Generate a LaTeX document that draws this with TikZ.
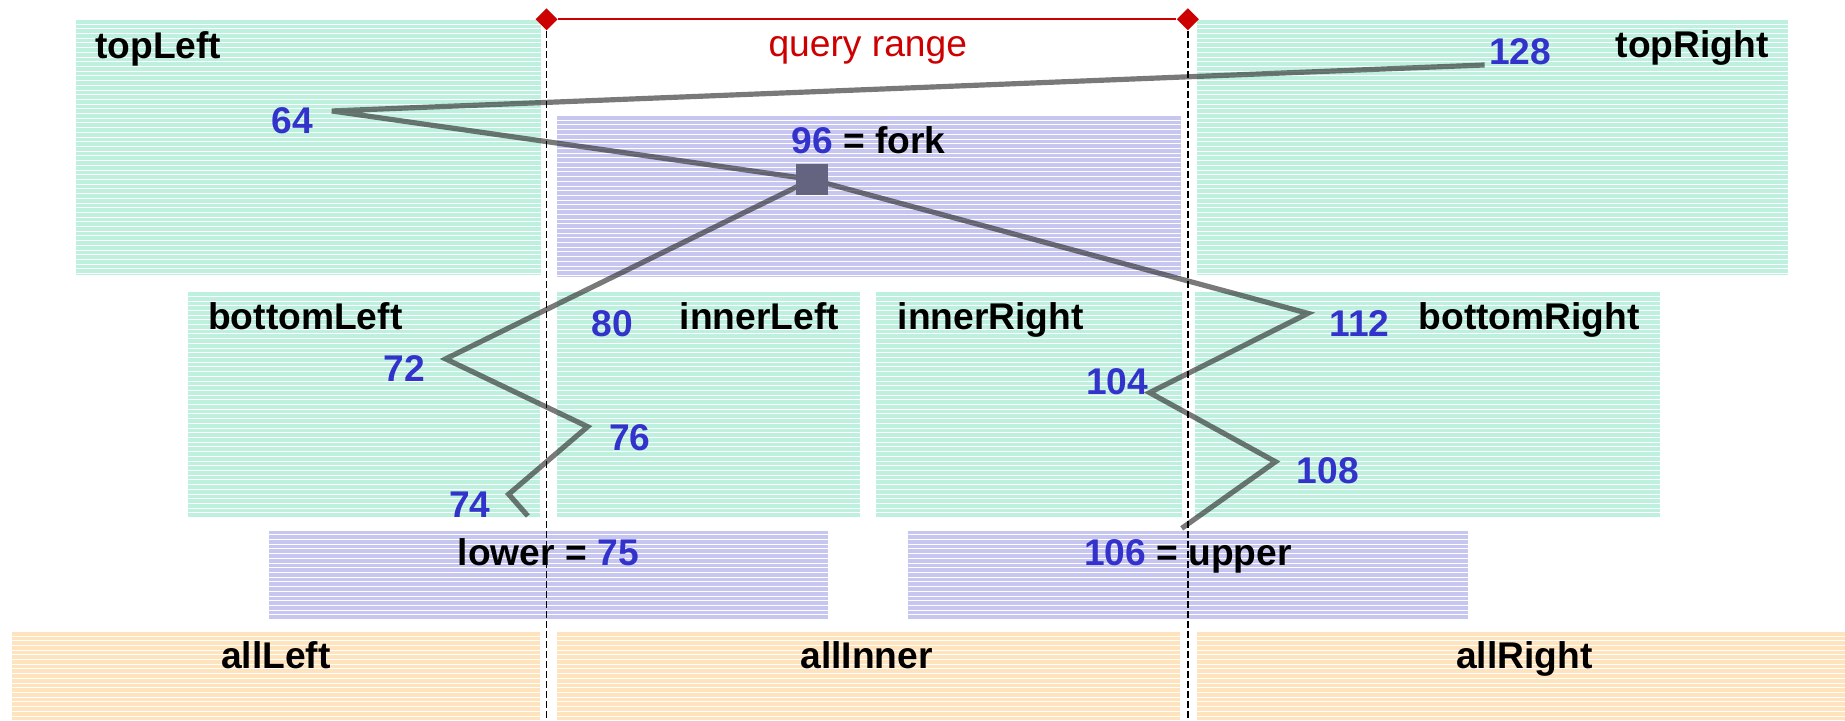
\documentclass[tikz,border=0pt]{standalone}
\usepackage{fontspec}
\setmainfont{Liberation Sans}
\usetikzlibrary{shapes.geometric}

\definecolor{tealfill}{RGB}{190,240,222}
\definecolor{lilacfill}{RGB}{198,198,240}
\definecolor{peachfill}{RGB}{255,227,188}
\definecolor{numblue}{RGB}{51,51,204}
\definecolor{rangered}{RGB}{204,0,0}
\definecolor{forkgray}{RGB}{100,100,128}

\tikzset{
  zone/.style={draw=none, inner sep=0pt, outer sep=0pt, rectangle,
    path picture={
      \foreach \k in {0,...,56}
        \draw[white, line width=0.3pt]
          ([yshift=-\k*2pt-1.7pt]path picture bounding box.north west) --
          ([yshift=-\k*2pt-1.7pt]path picture bounding box.north east);}},
  lbl/.style={font=\fontsize{15.8}{18}\selectfont\bfseries, inner sep=0pt, outer sep=0pt},
  num/.style={lbl, text=numblue},
  trace/.style={draw=black!85, draw opacity=0.62, line width=2.2pt, line join=miter},
  guide/.style={draw=black, line width=0.55pt, dash pattern=on 2.85pt off 1.4pt},
  rangeline/.style={draw=rangered, line width=0.85pt},
  rangeend/.style={diamond, fill=rangered, draw=none, inner sep=0pt, minimum size=9.5pt},
  forkmark/.style={rectangle, fill=forkgray, draw=none, inner sep=0pt, minimum size=13.5pt}
}

% name, colour, x0, y0, x1, y1 (y grows downward)
\newcommand\zonebox[6]{%
  \node[zone, fill=#2, minimum width={(#5-#3)*0.5pt}, minimum height={(#6-#4)*0.5pt}]
    (#1) at ({(#3+#5)/2},{(#4+#6)/2}) {};}

\begin{document}
\begin{tikzpicture}[x=0.5pt, y=-0.5pt]
\useasboundingbox (0,0) rectangle (1568,612);

% tree levels
\zonebox{topLeftBox}{tealfill}{65}{17}{459.4}{233.7}
\zonebox{forkBox}{lilacfill}{473}{98.6}{1003.3}{235}
\zonebox{topRightBox}{tealfill}{1017}{17}{1519.8}{233.7}

\zonebox{bottomLeftBox}{tealfill}{160}{248.3}{459}{439}
\zonebox{innerLeftBox}{tealfill}{473}{248.3}{731}{439}
\zonebox{innerRightBox}{tealfill}{744.5}{248.3}{1004.3}{439}
\zonebox{bottomRightBox}{tealfill}{1015.7}{248.3}{1410.8}{439}

\zonebox{lowerBox}{lilacfill}{228.3}{451}{703.8}{526}
\zonebox{upperBox}{lilacfill}{772}{451}{1247.6}{526}

\zonebox{allLeftBox}{peachfill}{10}{537}{459}{612}
\zonebox{allInnerBox}{peachfill}{473}{537}{1003}{612}
\zonebox{allRightBox}{peachfill}{1017}{537}{1568}{612}

% search path vertices
\coordinate (v128) at (1261.7,55.2);
\coordinate (v64) at (282,94.3);
\coordinate (v112) at (1111.6,266.3);
\coordinate (v104) at (977,333.7);
\coordinate (v108) at (1084,392.4);
\coordinate (endU) at (1004.3,449);
\coordinate (v72) at (378.7,305);
\coordinate (v76) at (499.4,362.6);
\coordinate (v74) at (432.3,420);
\coordinate (endL) at (448.6,438.5);
\coordinate (forkPt) at (690,152.5);

\draw[trace] (v128) -- (v64) -- (forkPt) -- (v112) -- (v104) -- (v108) -- (endU);
\draw[trace] (forkPt) -- (v72) -- (v76) -- (v74) -- (endL);
\node[forkmark] (fork) at (forkPt) {};

% labels
\node[lbl, anchor=base west] (tlText) at (81,49.5) {topLeft};
\node[lbl, anchor=base east] (trText) at (1503,48.5) {topRight};
\node[font=\fontsize{15.8}{18}\selectfont, text=rangered, inner sep=0pt, anchor=base] (qText) at (737.5,48.2) {query range};
\node[num, anchor=base west] (n128) at (1265.5,55.2) {128};
\node[num, anchor=base west] (n64) at (231,113.3) {64};
\node[lbl, anchor=base] (forkText) at (738,130.3) {\textcolor{numblue}{96} = fork};

\node[lbl, anchor=base west] (blText) at (177,280) {bottomLeft};
\node[num, anchor=base west] (n80) at (503,286) {80};
\node[lbl, anchor=base east] (ilText) at (713,280) {innerLeft};
\node[lbl, anchor=base west] (irText) at (763,280) {innerRight};
\node[num, anchor=base west] (n112) at (1130,286) {112};
\node[lbl, anchor=base east] (brText) at (1393.5,280) {bottomRight};
\node[num, anchor=base west] (n72) at (326,324.4) {72};
\node[num, anchor=base west] (n104) at (923,335) {104};
\node[num, anchor=base west] (n76) at (517.6,382.5) {76};
\node[num, anchor=base west] (n108) at (1102,410.8) {108};
\node[num, anchor=base west] (n74) at (381.6,439.5) {74};

\node[lbl, anchor=base] (lowerText) at (466,481) {lower = \textcolor{numblue}{75}};
\node[lbl, anchor=base] (upperText) at (1009.5,481) {\textcolor{numblue}{106} = upper};

\node[lbl, anchor=base] (alText) at (234.5,568) {allLeft};
\node[lbl, anchor=base] (aiText) at (736.5,568) {allInner};
\node[lbl, anchor=base] (arText) at (1295.5,568) {allRight};

% query range bracket and its boundaries
\node[rangeend] (qL) at (464.5,16.4) {};
\node[rangeend] (qR) at (1009.5,16.4) {};
\coordinate (qLb) at (464.5,612);
\coordinate (qRb) at (1009.5,612);
\draw[rangeline] (qL) -- (qR);
\draw[guide] (qL) -- (qLb);
\draw[guide] (qR) -- (qRb);
\end{tikzpicture}
\end{document}
